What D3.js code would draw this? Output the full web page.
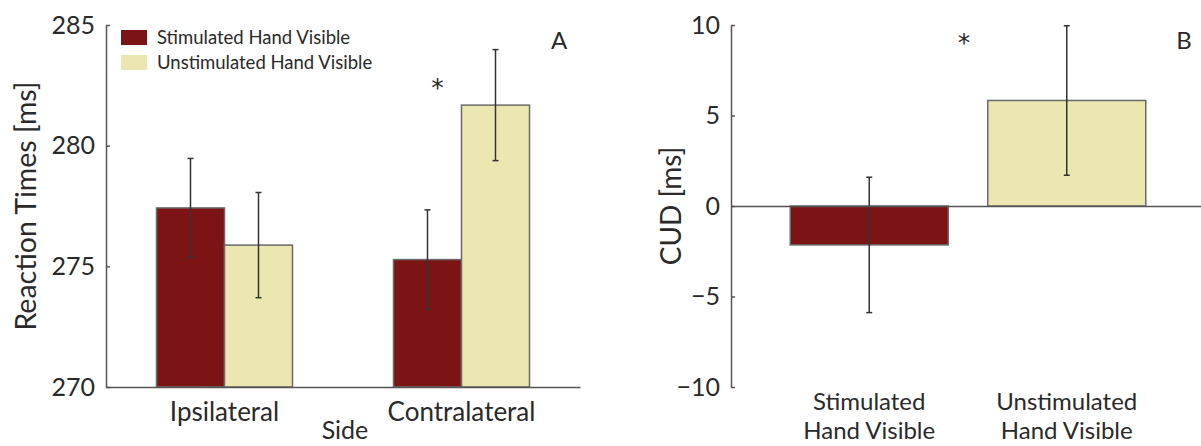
<!DOCTYPE html>
<html>
<head>
<meta charset="utf-8">
<script src="https://cdn.jsdelivr.net/npm/d3@7"></script>
<style>
  body { margin: 0; background: #fff; }
  svg text { font-family: Lato, "Noto Sans", sans-serif; fill: #2a2a2a; }
  svg text.star { font-family: "DejaVu Sans", sans-serif; }
</style>
</head>
<body>
<div id="chart"></div>
<script>
// data
const sides = ['Ipsilateral', 'Contralateral'];
const series = ['Stimulated Hand Visible', 'Unstimulated Hand Visible'];
const rtStim = [277.42, 275.28];
const rtStimErr = [2.05, 2.06];
const rtUnstim = [275.88, 281.68];
const rtUnstimErr = [2.18, 2.3];
const rtTicks = [270, 275, 280, 285];

const conditions = ['Stimulated Hand Visible', 'Unstimulated Hand Visible'];
const condLines = [['Stimulated', 'Hand Visible'], ['Unstimulated', 'Hand Visible']];
const cud = [-2.15, 5.83];
const cudErr = [3.74, 4.13];
const cudTicks = [-10, -5, 0, 5, 10];

const colors = ['#7c1416', '#ece7b0'];
const width = 1201, height = 446;

const svg = d3.select('#chart').append('svg')
  .attr('width', width).attr('height', height);

// ---------- panel A ----------
const xA = d3.scaleBand().domain(sides).range([106, 580]).padding(0);
const xSub = d3.scaleBand().domain(series).range([-68, 68]);
const yA = d3.scaleLinear().domain([270, 285]).range([387, 25]);

const rows = sides.map((s, i) => [
  { side: s, key: series[0], v: rtStim[i], e: rtStimErr[i] },
  { side: s, key: series[1], v: rtUnstim[i], e: rtUnstimErr[i] }
]).flat();

const gA = svg.append('g');

gA.selectAll('rect.bar').data(rows).enter().append('rect')
  .attr('class', 'bar')
  .attr('x', d => xA(d.side) + xA.bandwidth() / 2 + xSub(d.key))
  .attr('y', d => yA(d.v))
  .attr('width', xSub.bandwidth())
  .attr('height', d => yA(270) - yA(d.v))
  .attr('fill', d => colors[series.indexOf(d.key)])
  .attr('stroke', '#6a6a6a').attr('stroke-width', 1.5);

const cx = d => xA(d.side) + xA.bandwidth() / 2 + xSub(d.key) + xSub.bandwidth() / 2;
const errA = gA.selectAll('g.err').data(rows).enter().append('g')
  .attr('stroke', '#333').attr('stroke-width', 1.5);
errA.append('line').attr('x1', cx).attr('x2', cx)
  .attr('y1', d => yA(d.v + d.e)).attr('y2', d => yA(d.v - d.e));
errA.append('line').attr('x1', d => cx(d) - 3).attr('x2', d => cx(d) + 3)
  .attr('y1', d => yA(d.v + d.e)).attr('y2', d => yA(d.v + d.e));
errA.append('line').attr('x1', d => cx(d) - 3).attr('x2', d => cx(d) + 3)
  .attr('y1', d => yA(d.v - d.e)).attr('y2', d => yA(d.v - d.e));

// y axis
const axA = gA.append('g').attr('transform', 'translate(106,0)')
  .call(d3.axisLeft(yA).tickValues(rtTicks).tickFormat(d3.format('d'))
    .tickSizeInner(-4).tickSizeOuter(0).tickPadding(11));
axA.selectAll('text').style('font-size', '25px');

// x axis
const axAx = gA.append('g').attr('transform', 'translate(0,387)')
  .call(d3.axisBottom(xA).tickSize(0).tickPadding(16));
axAx.selectAll('text').style('font-size', '26px');

gA.append('text').attr('transform', 'translate(36,206) rotate(-90)')
  .attr('text-anchor', 'middle').style('font-size', '28.5px')
  .text('Reaction Times [ms]');
gA.append('text').attr('x', 345).attr('y', 439)
  .attr('text-anchor', 'middle').style('font-size', '25px').text('Side');

// legend
const leg = gA.selectAll('g.leg').data(series).enter().append('g')
  .attr('transform', (d, i) => `translate(121,${30 + i * 25})`);
leg.append('rect').attr('width', 26).attr('height', 15)
  .attr('fill', (d, i) => colors[i]);
leg.append('text').attr('x', 36).attr('y', 14)
  .style('font-size', '18.5px').text(d => d);

gA.append('text').attr('x', 559).attr('y', 49).attr('text-anchor', 'middle')
  .style('font-size', '24px').text('A');
gA.append('text').attr('class', 'star')
  .attr('x', xA('Contralateral') + xA.bandwidth() / 2 - 24).attr('y', 96)
  .attr('text-anchor', 'middle').style('font-size', '25px').text('*');

// ---------- panel B ----------
const xB = d3.scaleBand().domain(conditions).range([731, 1205])
  .paddingInner(0.2).paddingOuter(0.3);
const yB = d3.scaleLinear().domain([-10, 10]).range([387, 25]);
const gB = svg.append('g');

const rowsB = conditions.map((c, i) => ({ c, v: cud[i], e: cudErr[i], i }));

gB.selectAll('rect').data(rowsB).enter().append('rect')
  .attr('x', d => xB(d.c))
  .attr('y', d => yB(Math.max(0, d.v)))
  .attr('width', xB.bandwidth())
  .attr('height', d => Math.abs(yB(d.v) - yB(0)))
  .attr('fill', d => colors[d.i])
  .attr('stroke', '#6a6a6a').attr('stroke-width', 1.5);

const cxB = d => xB(d.c) + xB.bandwidth() / 2;
const errB = gB.selectAll('g.err').data(rowsB).enter().append('g')
  .attr('stroke', '#333').attr('stroke-width', 1.5);
errB.append('line').attr('x1', cxB).attr('x2', cxB)
  .attr('y1', d => yB(d.v + d.e)).attr('y2', d => yB(d.v - d.e));
errB.append('line').attr('x1', d => cxB(d) - 3).attr('x2', d => cxB(d) + 3)
  .attr('y1', d => yB(d.v + d.e)).attr('y2', d => yB(d.v + d.e));
errB.append('line').attr('x1', d => cxB(d) - 3).attr('x2', d => cxB(d) + 3)
  .attr('y1', d => yB(d.v - d.e)).attr('y2', d => yB(d.v - d.e));

// zero line
gB.append('g').attr('transform', `translate(0,${yB(0)})`)
  .call(d3.axisBottom(xB).tickValues([]).tickSizeOuter(0));

const axB = gB.append('g').attr('transform', 'translate(731,0)')
  .call(d3.axisLeft(yB).tickValues(cudTicks)
    .tickSizeInner(-4).tickSizeOuter(0).tickPadding(11));
axB.selectAll('text').style('font-size', '25px');

// category labels (two lines, one text each)
[0, 1].forEach(line => {
  gB.selectAll('text.cat' + line).data(rowsB).enter().append('text')
    .attr('class', 'cat' + line).attr('text-anchor', 'middle')
    .style('font-size', '24px')
    .attr('x', cxB).attr('y', 410 + line * 29)
    .text(d => condLines[d.i][line]);
});

svg.selectAll('.domain, .tick line').attr('stroke', '#555').attr('stroke-width', 1.5);

gB.append('text').attr('transform', 'translate(681,206) rotate(-90)')
  .attr('text-anchor', 'middle').style('font-size', '28px').text('CUD [ms]');
gB.append('text').attr('x', 1184).attr('y', 49).attr('text-anchor', 'middle')
  .style('font-size', '24px').text('B');
gB.append('text').attr('class', 'star')
  .attr('x', (cxB(rowsB[0]) + cxB(rowsB[1])) / 2 - 4).attr('y', 51)
  .attr('text-anchor', 'middle').style('font-size', '25px').text('*');
</script>
</body>
</html>
